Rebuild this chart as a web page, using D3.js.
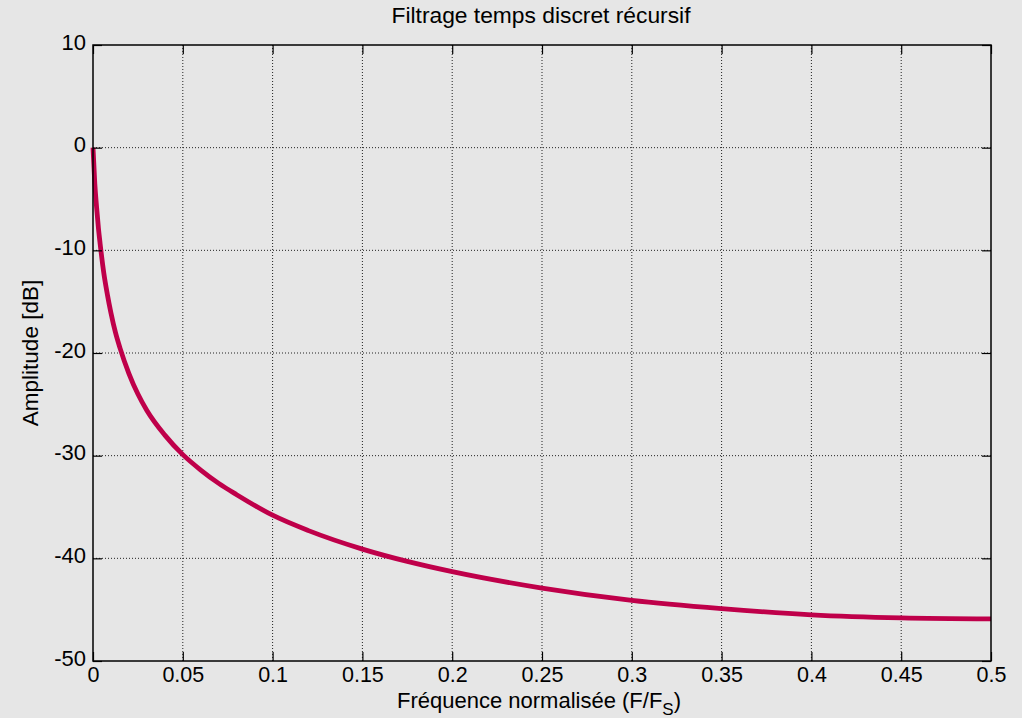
<!DOCTYPE html>
<html>
<head>
<meta charset="utf-8">
<script src="https://cdn.jsdelivr.net/npm/d3@7"></script>
<style>
  html, body { margin: 0; padding: 0; background: #e6e6e6; }
  svg { display: block; font-family: "Liberation Sans", Arial, sans-serif; }
</style>
</head>
<body>
<div id="chart"></div>
<script>
// valeurs (frequence normalisee / amplitude en dB)
const freq = [0, 0.001, 0.002, 0.003, 0.004, 0.006, 0.008, 0.01, 0.0125, 0.015,
  0.02, 0.025, 0.03, 0.04, 0.05, 0.06, 0.07, 0.08, 0.1, 0.12,
  0.15, 0.175, 0.2, 0.25, 0.3, 0.35, 0.4, 0.45, 0.5];
const ampDb = [0, -3.5, -5.8, -7.8, -9.4, -12.2, -14.3, -16.1, -18.0, -19.5,
  -22.0, -24.0, -25.6, -28.0, -29.9, -31.4, -32.7, -33.8, -35.8, -37.3,
  -39.1, -40.3, -41.3, -42.9, -44.1, -44.9, -45.5, -45.8, -45.9];
const xTicks = [0, 0.05, 0.1, 0.15, 0.2, 0.25, 0.3, 0.35, 0.4, 0.45, 0.5];
const yTicks = [10, 0, -10, -20, -30, -40, -50];

const width = 1022, height = 718;
const margin = { top: 45, right: 31, bottom: 57, left: 93 };
const w = width - margin.left - margin.right;
const h = height - margin.top - margin.bottom;

const svg = d3.select("#chart").append("svg")
  .attr("width", width)
  .attr("height", height);

svg.append("rect").attr("width", width).attr("height", height).attr("fill", "#e6e6e6");

const g = svg.append("g").attr("transform", `translate(${margin.left},${margin.top})`);

const x = d3.scaleLinear().domain([0, 0.5]).range([0, w]);
const y = d3.scaleLinear().domain([-50, 10]).range([h, 0]);

// grille pointillee
g.append("g").selectAll("line")
  .data(xTicks.slice(1, -1))
  .join("line")
  .attr("x1", d => x(d)).attr("x2", d => x(d))
  .attr("y1", 0).attr("y2", h)
  .attr("stroke", "#222").attr("stroke-width", 1)
  .attr("stroke-dasharray", "1,2");

g.append("g").selectAll("line")
  .data(yTicks.slice(1, -1))
  .join("line")
  .attr("y1", d => y(d)).attr("y2", d => y(d))
  .attr("x1", 0).attr("x2", w)
  .attr("stroke", "#222").attr("stroke-width", 1)
  .attr("stroke-dasharray", "1,2");

// courbe
const line = d3.line()
  .x((d, i) => x(freq[i]))
  .y(d => y(d))
  .curve(d3.curveMonotoneX);

g.append("path")
  .datum(ampDb)
  .attr("d", line)
  .attr("fill", "none")
  .attr("stroke", "#bf004a")
  .attr("stroke-width", 4.8)
  .attr("stroke-linejoin", "round");

// axes (ticks vers l'interieur, style matlab)
const tickLen = 9;
const fmtX = d => d === 0 ? "0" : String(d);
const fmtY = d => String(d); // tiret simple, pas le signe moins unicode

const xAxis = g.append("g")
  .attr("transform", `translate(0,${h})`)
  .call(d3.axisBottom(x).tickValues(xTicks).tickSize(-tickLen).tickSizeOuter(0).tickFormat(fmtX));
g.append("g")
  .call(d3.axisTop(x).tickValues(xTicks).tickSize(-tickLen).tickSizeOuter(0).tickFormat(""));

const yAxis = g.append("g")
  .call(d3.axisLeft(y).tickValues(yTicks).tickSize(-tickLen).tickSizeOuter(0).tickPadding(7).tickFormat(fmtY));
g.append("g")
  .attr("transform", `translate(${w},0)`)
  .call(d3.axisRight(y).tickValues(yTicks).tickSize(-tickLen).tickSizeOuter(0).tickFormat(""));

g.selectAll(".domain").remove();
g.selectAll(".tick line").attr("stroke", "#000").attr("stroke-width", 1.2);

xAxis.selectAll("text")
  .attr("font-size", 21.5).attr("fill", "#000")
  .attr("font-family", "Liberation Sans, Arial, sans-serif")
  .attr("dy", 0).attr("y", 21);
yAxis.selectAll("text")
  .attr("font-size", 22).attr("fill", "#000")
  .attr("font-family", "Liberation Sans, Arial, sans-serif")
  .attr("dy", "0.32em").attr("y", -3);

// cadre
g.append("rect")
  .attr("width", w).attr("height", h)
  .attr("fill", "none").attr("stroke", "#000").attr("stroke-width", 1.5);

// titre et libelles
svg.append("text")
  .attr("x", margin.left + w / 2 - 1).attr("y", 23)
  .attr("text-anchor", "middle")
  .attr("font-size", 22.8)
  .text("Filtrage temps discret récursif");

const xl = svg.append("text")
  .attr("x", margin.left + w / 2 - 3).attr("y", 707.5)
  .attr("text-anchor", "middle")
  .attr("font-size", 22);
xl.append("tspan").text("Fréquence normalisée (F/F");
xl.append("tspan").attr("dy", 7).attr("font-size", 17).text("S");
xl.append("tspan").attr("dy", -7).text(")");

svg.append("text")
  .attr("transform", `translate(38,${margin.top + y(-20)}) rotate(-90)`)
  .attr("text-anchor", "middle")
  .attr("font-size", 22.5)
  .text("Amplitude [dB]");
</script>
</body>
</html>
